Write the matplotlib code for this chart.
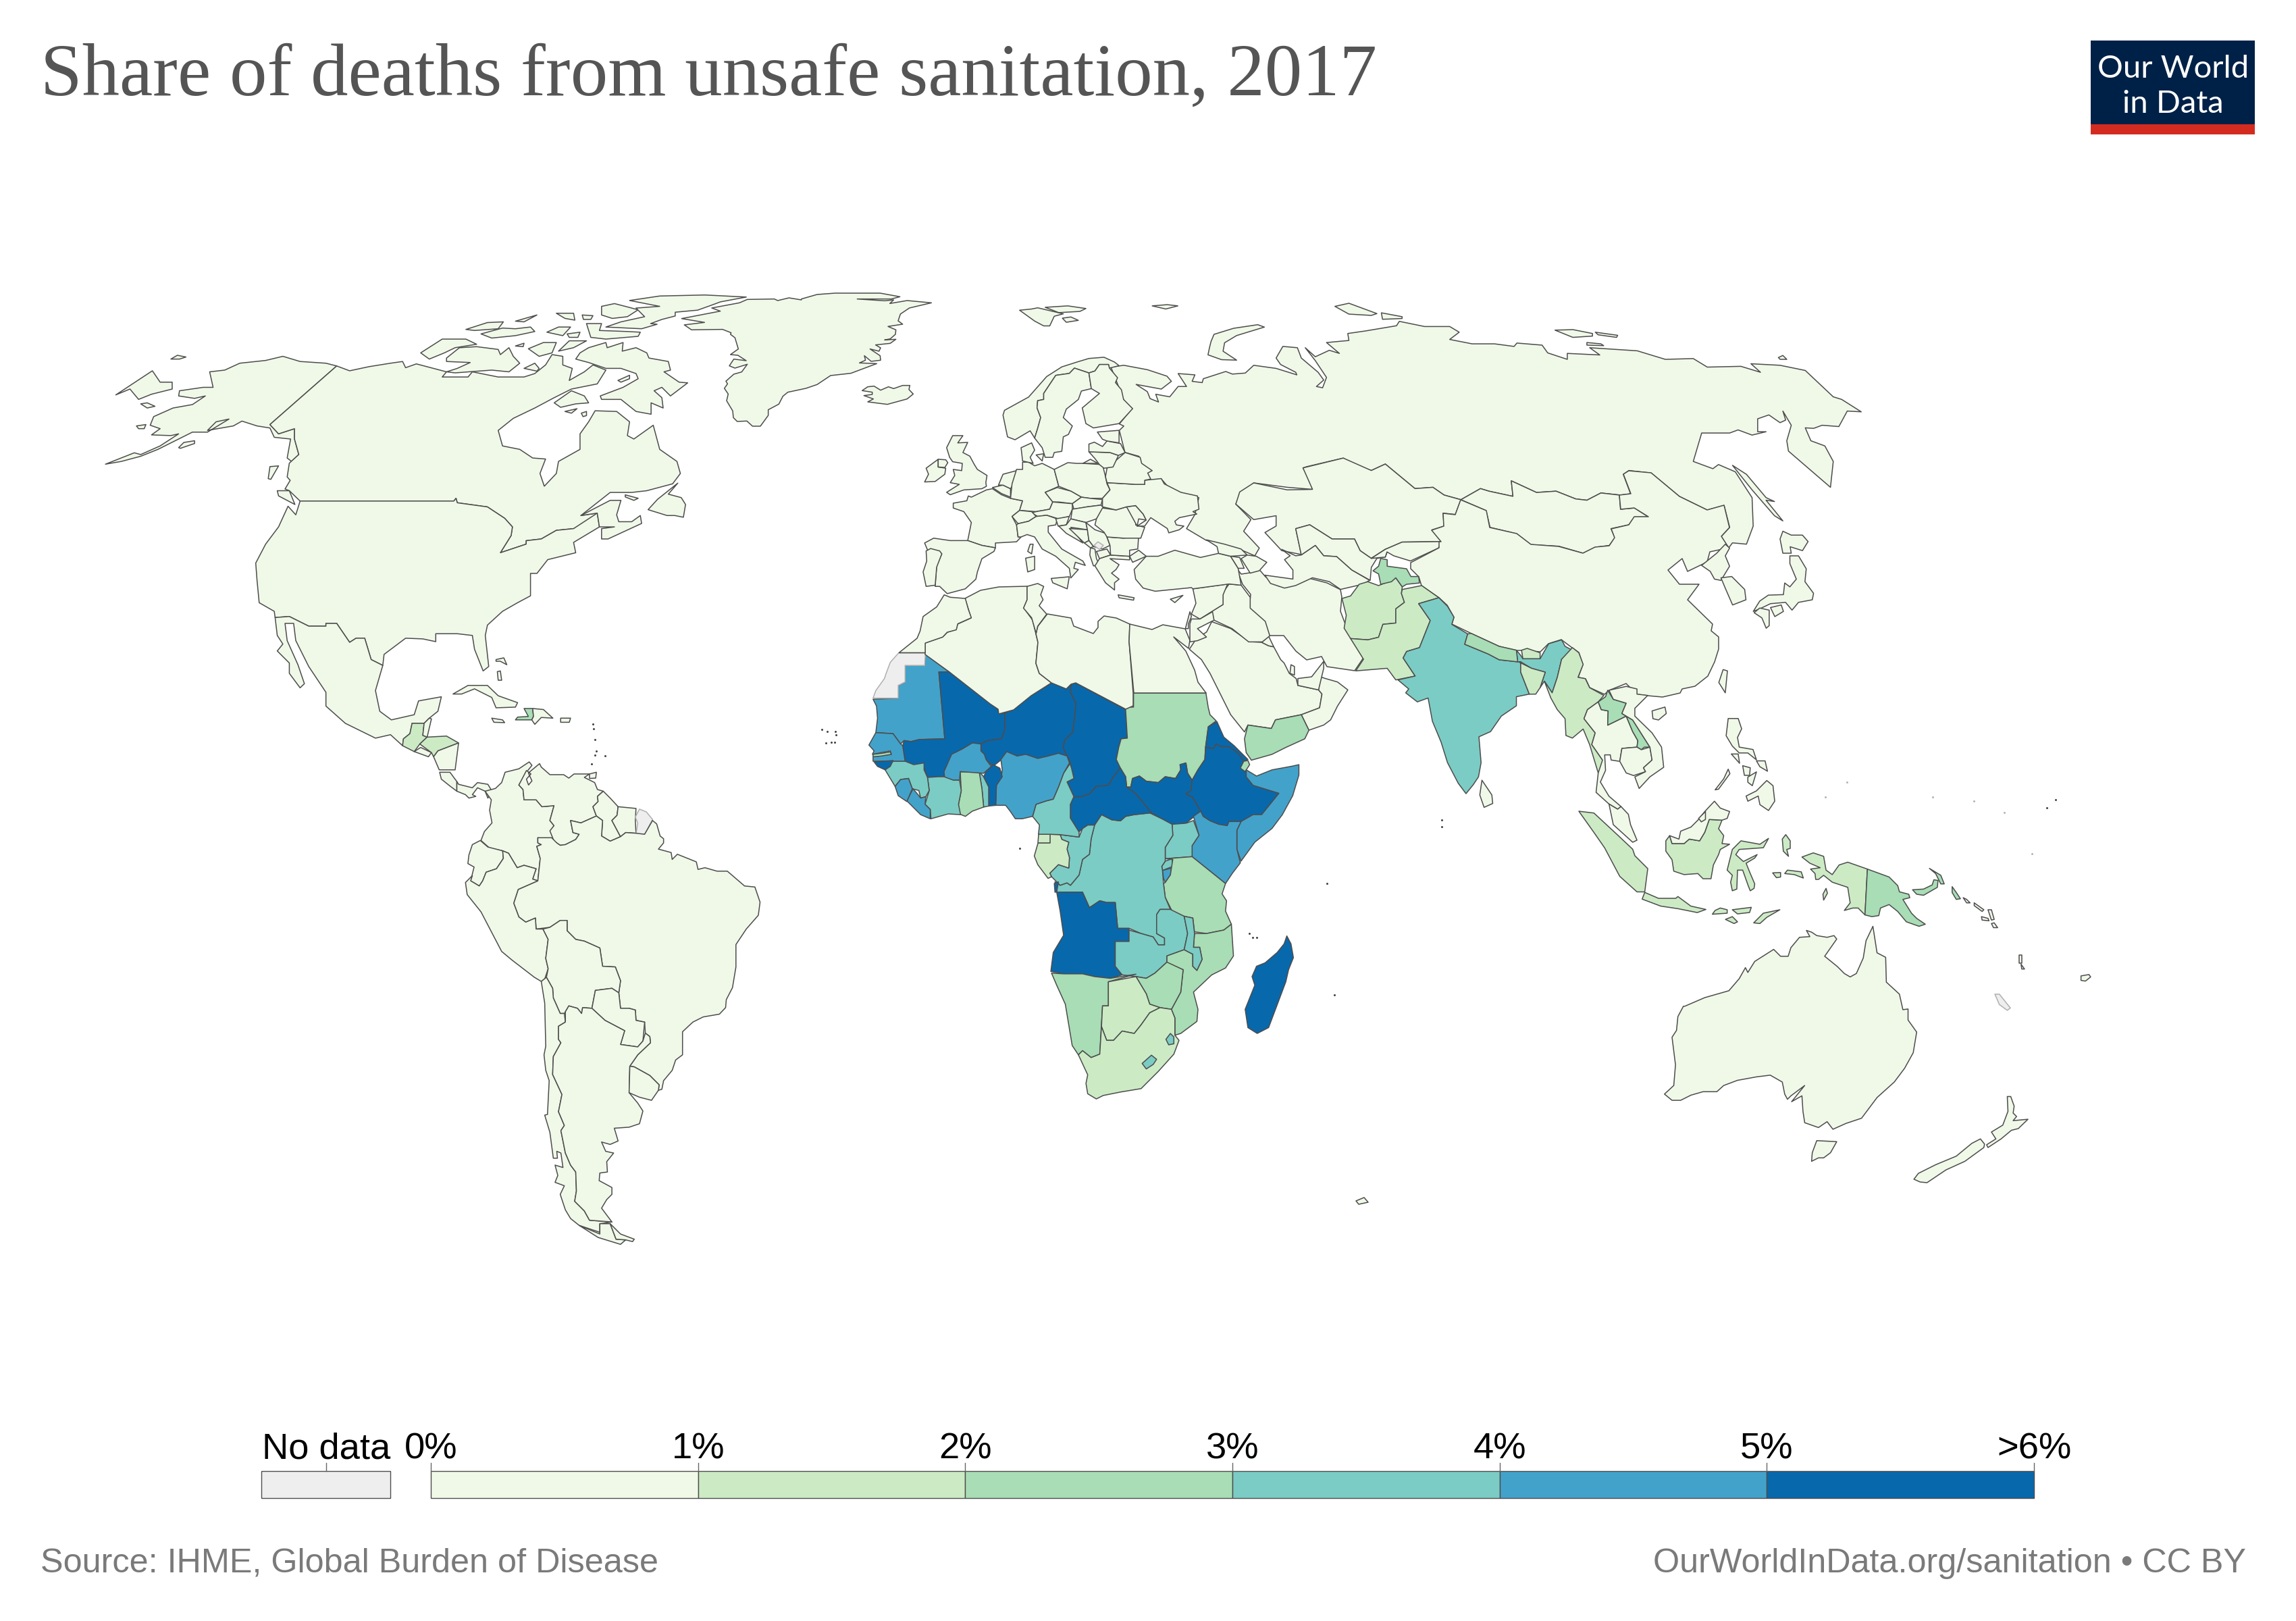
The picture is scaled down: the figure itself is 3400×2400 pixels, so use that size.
import numpy as np
import matplotlib
matplotlib.use("Agg")
import matplotlib.pyplot as plt
from matplotlib.colors import BoundaryNorm, ListedColormap
from matplotlib.patches import Rectangle

# Legend
bin_edges = [0, 1, 2, 3, 4, 5, 6]
bin_labels = ["0%", "1%", "2%", "3%", "4%", "5%", ">6%"]
bin_colors = ["#f0f9e8", "#ccebc5", "#a8ddb5", "#7bccc4", "#43a2ca", "#0868ac"]
no_data_color = "#eeeeee"
title = "Share of deaths from unsafe sanitation, 2017"
source = "Source: IHME, Global Burden of Disease"
credit = "OurWorldInData.org/sanitation • CC BY"

# Outlines below were read off the picture, each group in the pixels of one crop
# crop: left, top, x scale, y scale
AFRICA_CROP = (1200, 900, 1.96, 1.96)
NAMERICA_CROP = (100, 400, 1.568, 1.96)
EUROPE_CROP = (1300, 420, 2.24, 2.8)
ASIA_CROP = (2000, 800, 1.568, 2.613)
SAMERICA_CROP = (600, 1100, 1.96, 1.96)
EURASIA_CROP = (1500, 400, 1.206, 2.613)
OCEANIA_CROP = (2300, 1000, 1.96, 1.96)
GREENLAND_CROP = (950, 420, 3, 3)
PIXEL_CROP = (0, 0, 1, 1)

# --- Africa
western_sahara = [(334,131),(256,131),(232,158),(220,190),(215,205),(190,240),(182,262),(255,262),(255,225),(275,215),(275,167),(332,167)]
mauritania = [(334,135),(403,186),(373,186),(390,380),(316,382),(292,388),(272,385),(262,395),(240,365),(190,362),(195,320),(192,285),(182,265),(255,262),(255,225),(275,215),(275,167),(332,167)]
mali = [(373,186),(403,186),(522,278),(545,295),(547,307),(565,305),(564,355),(555,380),(515,385),(495,395),(470,392),(440,410),(415,425),(390,470),(388,490),(370,490),(340,492),(330,465),(300,455),(275,445),(268,400),(272,385),(292,388),(316,382),(390,380)]
niger = [(565,305),(590,295),(640,255),(700,218),(735,228),(742,236),(757,222),(755,245),(770,275),(770,290),(762,360),(738,385),(734,405),(745,430),(720,422),(690,430),(660,437),(625,425),(600,430),(570,417),(555,440),(530,460),(510,440),(505,425),(495,415),(495,395),(515,385),(555,380),(564,355)]
chad = [(757,222),(770,218),(915,295),(920,378),(902,380),(895,405),(888,440),(900,465),(880,490),(865,515),(830,518),(810,540),(785,548),(765,548),(745,505),(765,495),(758,465),(750,440),(745,430),(734,405),(738,385),(762,360),(770,290),(770,275),(755,245)]
sudan = [(938,247),(1148,247),(1155,290),(1160,310),(1178,328),(1155,345),(1147,405),(1145,440),(1125,470),(1108,500),(1095,480),(1090,450),(1073,455),(1075,470),(1060,495),(1030,490),(1010,507),(975,503),(955,488),(935,495),(930,520),(918,520),(915,490),(900,465),(888,440),(895,405),(902,380),(920,378),(915,295),(915,288),(938,288)]
south_sudan = [(918,520),(930,520),(935,495),(955,488),(975,503),(1010,507),(1030,490),(1060,495),(1075,470),(1073,455),(1090,450),(1095,480),(1108,500),(1105,530),(1090,540),(1110,550),(1133,590),(1115,605),(1090,625),(1050,628),(1020,612),(990,595),(970,570),(945,540)]
eritrea = [(1180,330),(1200,375),(1230,400),(1270,440),(1258,445),(1240,420),(1215,403),(1190,402),(1178,395),(1170,408),(1147,405),(1155,345)]
ethiopia = [(1147,405),(1170,408),(1178,395),(1190,402),(1215,403),(1240,420),(1258,445),(1250,465),(1265,475),(1265,490),(1285,515),(1360,538),(1310,600),(1285,600),(1250,620),(1215,620),(1210,632),(1185,628),(1160,618),(1140,605),(1133,590),(1110,550),(1090,540),(1105,530),(1108,500),(1125,470),(1145,440)]
djibouti = [(1258,445),(1270,443),(1275,455),(1262,475),(1248,465)]
somalia = [(1265,470),(1295,488),(1340,470),(1395,460),(1418,455),(1418,485),(1400,545),(1370,600),(1340,640),(1290,680),(1250,735),(1238,700),(1238,645),(1250,620),(1285,600),(1310,600),(1360,538),(1285,515),(1265,490)]
kenya = [(1133,590),(1140,605),(1160,618),(1185,628),(1210,632),(1215,620),(1250,620),(1238,645),(1238,700),(1248,740),(1225,770),(1205,800),(1108,722),(1108,690),(1128,660),(1112,605)]
uganda = [(1050,628),(1090,625),(1112,617),(1128,660),(1108,690),(1108,722),(1030,728),(1030,695),(1052,660)]
rwanda = [(1030,735),(1050,728),(1052,750),(1022,762),(1020,750)]
burundi = [(1022,762),(1048,755),(1045,775),(1030,797),(1025,785)]
tanzania = [(1030,728),(1108,722),(1205,800),(1195,830),(1208,850),(1205,880),(1222,918),(1200,935),(1150,945),(1115,940),(1110,900),(1085,895),(1050,880),(1030,840),(1025,800),(1030,797),(1045,775),(1048,755),(1052,730)]
dr_congo = [(845,600),(875,615),(900,618),(915,605),(940,600),(985,595),(1020,612),(1050,628),(1052,660),(1030,695),(1030,735),(1020,750),(1022,762),(1025,800),(1030,840),(1045,875),(1015,875),(1005,890),(1005,945),(1028,958),(1028,978),(1010,978),(995,955),(960,945),(925,930),(892,930),(885,855),(860,855),(840,850),(810,870),(790,825),(715,825),(710,795),(725,805),(745,798),(755,805),(780,775),(790,730),(810,715),(815,670),(825,630)]
congo = [(780,665),(790,640),(805,630),(825,630),(815,670),(810,715),(790,730),(780,775),(755,805),(745,798),(725,805),(715,795),(700,780),(695,770),(720,745),(750,755),(752,725),(745,700),(750,680),(730,672),(725,658)]
gabon = [(662,682),(695,682),(695,657),(725,658),(730,672),(750,680),(745,700),(752,725),(750,755),(720,745),(695,770),(700,780),(690,785),(660,745),(650,720),(660,685)]
eq_guinea = [(662,657),(695,657),(695,682),(660,682)]
cameroon = [(745,430),(750,440),(758,465),(765,495),(745,505),(765,548),(755,570),(755,610),(780,650),(780,665),(725,658),(695,657),(662,657),(665,630),(645,605),(655,570),(685,560),(705,555),(720,520),(735,480),(755,450)]
car = [(765,548),(785,548),(810,540),(830,518),(865,515),(880,490),(900,465),(915,490),(918,520),(945,540),(970,570),(990,595),(940,600),(915,605),(900,618),(875,615),(845,600),(825,630),(805,630),(790,640),(780,650),(755,610),(755,570)]
nigeria = [(570,417),(600,430),(625,425),(660,437),(690,430),(720,422),(745,430),(752,450),(735,480),(720,520),(705,555),(685,560),(655,570),(645,605),(615,612),(595,612),(580,590),(567,573),(538,573),(540,515),(555,485),(557,470),(553,440)]
benin = [(530,455),(550,465),(557,490),(540,515),(538,573),(518,575),(518,520),(503,490),(510,475)]
togo = [(490,475),(503,490),(518,520),(518,575),(503,578),(498,525)]
ghana = [(435,476),(490,475),(498,525),(503,578),(470,590),(450,605),(430,597),(430,570),(438,530)]
burkina = [(495,395),(495,415),(505,425),(510,440),(525,460),(503,480),(435,475),(433,500),(415,500),(390,495),(388,475),(410,425),(440,410),(470,392)]
ivory_coast = [(340,492),(370,490),(388,490),(415,500),(433,500),(438,530),(430,570),(436,600),(400,598),(350,612),(348,585),(333,570),(345,530)]
liberia = [(280,560),(298,525),(315,545),(320,552),(335,548),(333,570),(348,585),(348,612),(320,600)]
sierra_leone = [(246,518),(262,498),(285,495),(296,525),(280,562),(255,545)]
guinea = [(217,470),(240,445),(275,445),(300,455),(330,450),(330,470),(340,492),(345,530),(335,548),(320,552),(315,530),(296,525),(285,495),(262,498),(246,518)]
guinea_bissau = [(185,447),(240,443),(232,460),(217,470),(195,460)]
senegal = [(170,398),(190,362),(240,365),(262,395),(268,400),(275,445),(240,445),(182,445),(182,432),(235,425),(232,415),(180,425),(185,415)]
gambia = [(182,425),(208,422),(232,418),(235,425),(205,430),(182,432)]
angola = [(715,825),(790,825),(810,870),(840,850),(860,855),(885,855),(892,930),(925,930),(925,968),(885,968),(885,1040),(905,1065),(870,1075),(825,1070),(790,1062),(735,1062),(698,1055),(705,1000),(735,950),(725,880)]
cabinda = [(708,800),(720,795),(715,825),(710,825)]
zambia = [(925,935),(960,945),(995,955),(1010,978),(1028,978),(1028,958),(1005,945),(1005,890),(1015,875),(1045,875),(1085,895),(1095,945),(1085,992),(1035,1010),(1035,1028),(1000,1060),(975,1075),(945,1070),(905,1065),(885,1040),(885,968),(925,968)]
malawi = [(1085,895),(1110,900),(1115,945),(1112,985),(1130,985),(1137,1020),(1122,1052),(1110,1040),(1110,1005),(1085,992),(1095,945)]
mozambique = [(1115,945),(1150,945),(1200,935),(1222,918),(1228,1010),(1205,1045),(1165,1065),(1112,1115),(1125,1165),(1122,1200),(1075,1235),(1058,1240),(1058,1190),(1048,1165),(1075,1115),(1082,1050),(1035,1030),(1035,1010),(1085,992),(1110,1005),(1110,1040),(1122,1052),(1137,1020),(1130,985),(1112,985)]
zimbabwe = [(945,1070),(975,1075),(1000,1060),(1035,1028),(1082,1050),(1075,1115),(1048,1165),(1015,1160),(985,1150),(975,1120)]
botswana = [(865,1085),(945,1070),(975,1120),(985,1150),(1015,1160),(985,1175),(960,1210),(940,1235),(905,1228),(880,1255),(860,1255),(845,1215),(848,1155),(865,1155)]
namibia = [(700,1060),(735,1062),(790,1062),(825,1070),(870,1075),(945,1063),(865,1085),(865,1155),(848,1155),(840,1295),(815,1305),(790,1285),(778,1297),(760,1270),(745,1180),(740,1150),(715,1095)]
south_africa = [(1015,1160),(1048,1165),(1058,1190),(1058,1240),(1070,1255),(1055,1295),(1010,1345),(960,1395),(900,1405),(850,1415),(830,1425),(805,1410),(800,1380),(805,1355),(778,1297),(790,1285),(815,1305),(840,1295),(845,1215),(860,1255),(880,1255),(905,1228),(940,1235),(960,1210),(985,1175)]
eswatini = [(1045,1235),(1055,1245),(1055,1265),(1040,1268),(1032,1252)]
lesotho = [(990,1298),(1005,1310),(995,1325),(975,1338),(963,1322)]
madagascar = [(1383,952),(1395,975),(1402,1015),(1388,1050),(1380,1085),(1350,1165),(1330,1218),(1297,1235),(1270,1218),(1262,1165),(1290,1095),(1282,1070),(1295,1040),(1320,1030),(1355,1000),(1375,975)]
morocco = [(220,1290),(240,1300),(290,1305),(300,1350),(310,1385),(265,1410),(260,1435),(230,1445),(215,1465),(157,1490),(157,1530),(70,1530),(130,1470),(140,1440),(150,1380),(195,1340)]
tunisia = [(495,1255),(530,1243),(550,1255),(540,1290),(548,1310),(535,1335),(560,1370),(530,1420),(525,1450),(510,1385),(483,1345),(495,1310)]
algeria = [(1429,886),(1452,874),(1479,869),(1521,868),(1521,888),(1516,900),(1529,918),(1537,951),(1534,982),(1539,997),(1557,1011),(1527,1030),(1501,1051),(1479,1057),(1478,1050),(1466,1042),(1406,995),(1370,969),(1370,952),(1396,943),(1403,936),(1416,932),(1418,924),(1438,915),(1434,902)]
libya = [(1551,909),(1586,915),(1590,927),(1619,938),(1626,929),(1626,920),(1635,912),(1653,915),(1673,924),(1672,950),(1678,1026),(1678,1045),(1667,1050),(1593,1011),(1586,1013),(1579,1020),(1557,1011),(1539,997),(1534,982),(1537,951),(1534,938),(1537,927)]
egypt = [(1673,924),(1706,932),(1722,925),(1755,931),(1762,948),(1760,960),(1738,943),(1756,964),(1769,992),(1774,1010),(1786,1026),(1679,1026),(1672,950)]

# --- Middle East
saudi = [(1100,120),(1120,90),(1150,70),(1165,40),(1220,60),(1275,98),(1310,100),(1330,110),(1345,113),(1365,150),(1375,160),(1390,190),(1410,205),(1415,225),(1475,238),(1485,250),(1478,290),(1425,310),(1350,325),(1338,350),(1270,340),(1260,360),(1220,310),(1190,250),(1160,190),(1135,150)]
yemen = [(1425,310),(1447,355),(1435,380),(1380,405),(1340,425),(1280,442),(1265,420),(1260,380),(1270,340),(1338,350),(1350,325)]
oman = [(1475,238),(1480,200),(1495,205),(1530,215),(1560,238),(1530,285),(1510,325),(1490,340),(1447,355),(1425,310),(1478,290),(1485,250)]
uae = [(1415,205),(1455,200),(1490,155),(1490,175),(1475,238),(1415,225)]
qatar = [(1395,165),(1405,170),(1405,195),(1392,190)]
kuwait = [(1310,100),(1330,82),(1345,113),(1330,110)]
iran = [(1831,841),(1838,850),(1851,848),(1862,840),(1874,854),(1894,868),(1918,866),(1938,856),(1965,863),(1985,873),(1987,884),(1985,905),(2000,945),(2019,974),(2006,993),(1965,987),(1957,972),(1935,977),(1919,964),(1901,941),(1884,941),(1874,941),(1868,925),(1850,900),(1852,880),(1840,865)]
iraq = [(1165,1245),(1205,1250),(1235,1300),(1235,1345),(1285,1400),(1300,1460),(1275,1485),(1230,1485),(1175,1430),(1115,1395),(1105,1360),(1145,1330),(1145,1280)]
jordan = [(1040,1390),(1068,1390),(1110,1360),(1115,1395),(1060,1430),(1090,1465),(1060,1480),(1035,1485),(1035,1410)]
syria = [(1045,1265),(1160,1245),(1145,1290),(1145,1330),(1068,1390),(1040,1370),(1055,1325)]
israel = [(1040,1380),(1030,1410),(1030,1430),(1020,1430),(1035,1360)]
turkey = [(850,1185),(890,1130),(930,1130),(985,1105),(1070,1135),(1130,1118),(1170,1130),(1195,1180),(1205,1250),(1165,1245),(1045,1265),(1040,1260),(920,1275),(880,1262),(855,1225)]
turkey_eu = [(835,1130),(865,1105),(890,1130),(845,1155)]
georgia = [(1090,1062),(1150,1080),(1205,1100),(1225,1125),(1170,1130),(1130,1118),(1125,1090)]
armenia = [(1170,1130),(1200,1135),(1215,1180),(1195,1180)]
azerbaijan = [(1225,1125),(1255,1130),(1290,1155),(1265,1190),(1235,1200),(1205,1140)]

# --- Europe
norway = [(652,350),(700,370),(720,362),(735,335),(765,335),(768,350),(800,340),(785,325),(750,305),(700,310),(660,325),(610,345),(560,385),(500,470),(420,525),(415,545),(430,635),(455,647),(505,610),(520,640),(530,600),(540,555),(528,515),(530,485),(550,480),(550,455),(590,380),(635,372)]
sweden = [(590,380),(635,372),(652,350),(700,370),(708,435),(675,445),(665,480),(625,520),(615,555),(645,590),(632,625),(615,635),(610,695),(585,700),(580,720),(555,720),(545,680),(520,640),(530,600),(540,555),(528,515),(530,485),(550,480),(550,455)]
finland = [(720,362),(735,335),(765,335),(768,350),(795,390),(788,410),(808,440),(815,480),(845,518),(800,580),(715,598),(690,580),(678,515),(735,455),(708,435),(700,370)]
uk = [(248,630),(282,630),(265,660),(298,658),(282,700),(305,715),(320,750),(330,770),(362,795),(358,825),(360,840),(345,850),(285,855),(240,875),(228,865),(270,832),(240,825),(255,795),(250,770),(278,775),(280,745),(248,738),(238,720),(228,680)]
ireland = [(160,765),(200,728),(200,760),(225,765),(222,790),(190,820),(155,822),(168,790)]
n_ireland = [(200,728),(225,730),(232,742),(222,762),(200,760)]
france = [(250,910),(295,900),(300,880),(310,885),(360,855),(380,850),(410,875),(440,890),(480,900),(470,940),(445,965),(460,1000),(465,1050),(475,1050),(460,1070),(390,1075),(390,1095),(345,1085),(298,1065),(310,990),(285,945),(250,930)]
spain = [(155,1075),(185,1055),(240,1065),(298,1065),(345,1085),(390,1095),(385,1110),(345,1140),(330,1195),(325,1225),(290,1265),(230,1285),(205,1255),(190,1255),(195,1170),(212,1120),(200,1108),(165,1105)]
portugal = [(160,1108),(175,1098),(205,1108),(212,1120),(195,1175),(190,1250),(160,1255),(150,1195),(162,1150)]
belgium = [(380,845),(415,835),(440,850),(440,885),(410,870)]
netherlands = [(400,835),(415,790),(460,775),(450,830),(440,850),(415,835)]
germany = [(460,770),(480,770),(480,740),(500,740),(520,755),(545,745),(585,770),(600,840),(555,865),(580,905),(570,935),(525,945),(470,940),(480,900),(440,890),(445,830)]
denmark = [(475,680),(510,660),(520,690),(505,720),(515,745),(480,735)]
zealand = [(525,710),(550,705),(545,735)]
poland = [(585,770),(630,742),(660,745),(680,745),(745,750),(755,800),(760,830),(770,855),(745,890),(705,890),(675,885),(640,860),(600,840)]
czechia = [(555,865),(595,845),(640,860),(675,885),(645,912),(600,905),(580,905)]
slovakia = [(645,912),(675,885),(705,890),(745,895),(740,918),(695,925),(650,935)]
austria = [(510,950),(525,945),(570,935),(580,905),(645,912),(645,935),(635,965),(600,975),(560,960),(530,965)]
hungary = [(645,935),(695,925),(740,918),(750,930),(725,975),(690,990),(640,975)]
switzerland = [(445,965),(470,940),(510,945),(525,965),(500,985),(465,995)]
italy = [(460,1000),(465,995),(500,985),(525,965),(560,960),(595,975),(590,1000),(565,1005),(565,1030),(610,1100),(680,1150),(688,1168),(655,1155),(650,1180),(665,1185),(640,1220),(635,1180),(590,1130),(545,1100),(520,1050),(495,1040),(475,1050),(465,1050)]
sicily = [(575,1222),(635,1215),(628,1265),(580,1240)]
sardinia = [(490,1138),(520,1130),(520,1185),(497,1195)]
corsica = [(505,1080),(515,1080),(510,1120),(497,1110)]
slovenia = [(590,975),(635,965),(625,1000),(598,1005)]
croatia = [(600,1005),(625,1000),(640,975),(690,990),(695,1020),(640,1010),(680,1075),(625,1035)]
bosnia = [(635,1015),(695,1020),(700,1065),(685,1075)]
serbia = [(690,990),(720,1020),(755,1035),(770,1085),(745,1100),(715,1090),(700,1065),(695,1020)]
kosovo = [(730,1070),(748,1085),(735,1102),(717,1085)]
montenegro = [(685,1075),(700,1065),(715,1090),(705,1095)]
albania = [(705,1095),(720,1100),(725,1140),(735,1165),(715,1170),(703,1125)]
macedonia = [(725,1110),(760,1100),(772,1125),(735,1140)]
greece = [(735,1140),(772,1125),(835,1130),(835,1145),(770,1140),(800,1165),(790,1185),(775,1200),(800,1225),(785,1240),(785,1270),(755,1240),(720,1170)]
crete = [(797,1290),(850,1302),(848,1312),(800,1302)]
cyprus = [(970,1308),(1012,1292),(985,1322)]
bulgaria = [(760,1050),(815,1055),(865,1045),(862,1100),(835,1105),(835,1130),(772,1125),(770,1085)]
romania = [(725,975),(745,930),(790,938),(825,925),(860,970),(855,1000),(885,1010),(872,1055),(815,1055),(760,1050),(750,1030),(720,1000)]
moldova = [(825,925),(855,920),(880,955),(890,980),(865,975),(860,1005)]
ukraine = [(760,825),(855,832),(885,832),(885,815),(940,808),(950,830),(1005,865),(1060,880),(1065,935),(1045,945),(1058,955),(1000,970),(985,985),(990,1000),(1015,1005),(1000,1020),(965,1033),(960,1015),(905,970),(885,1005),(860,1005),(890,980),(880,955),(855,920),(825,925),(790,938),(745,925),(745,890),(770,855)]
belarus = [(760,765),(820,700),(850,712),(870,720),(875,745),(910,775),(895,785),(905,810),(885,815),(885,832),(855,832),(760,825),(755,800)]
lithuania = [(700,697),(770,700),(798,712),(780,760),(750,765),(735,750),(720,725)]
latvia = [(700,665),(718,657),(745,675),(760,652),(805,663),(820,700),(798,712),(770,700),(700,697)]
estonia = [(728,615),(800,608),(800,660),(760,652),(745,645)]
kaliningrad = [(680,745),(705,728),(730,745)]
iceland = [(980,475),(1005,458),(1033,455),(1062,473),(1097,458),(1120,466),(1160,452),(1192,452),(1188,470),(1207,490),(1180,512),(1092,536),(1005,525),(1030,512),(988,497),(1025,492),(1025,482)]
svalbard = [(470,110),(510,105),(530,100),(615,125),(585,135),(570,175),(550,175),(520,155)]
svalbard_n = [(555,98),(630,92),(690,103),(670,115),(600,120)]
svalbard_s = [(612,143),(640,138),(665,152),(625,160)]
franz_josef = [(910,92),(960,87),(995,92),(955,105)]
novaya_zemlya = [(1115,210),(1180,185),(1260,170),(1282,180),(1190,215),(1150,245),(1145,280),(1190,317),(1140,315),(1095,295),(1100,265),(1105,240)]

# --- Russia and inner Asia
russia = [(198,368),(240,385),(275,410),(283,430),(265,460),(220,442),(240,470),(245,497),(260,510),(255,480),(280,490),(295,450),(310,450),(295,400),(325,405),(320,430),(338,435),(340,420),(380,392),(392,402),(415,398),(430,368),(470,380),(507,405),(505,395),(478,365),(470,340),(482,295),(508,300),(515,340),(545,395),(555,425),(542,450),(553,455),(560,415),(540,350),(522,300),(540,335),(565,310),(583,322),(560,280),(600,272),(598,245),(630,235),(685,215),(690,198),(735,218),(780,218),(797,240),(780,268),(820,285),(860,285),(895,295),(900,282),(945,290),(955,320),(990,345),(990,322),(1048,328),(1030,300),(1115,312),(1165,345),(1215,342),(1240,375),(1300,372),(1335,395),(1318,362),(1370,368),(1415,388),(1465,490),(1480,500),(1515,548),(1490,545),(1475,605),(1445,600),(1430,612),(1415,610),(1425,660),(1450,680),(1465,740),(1460,840),(1385,700),(1382,660),(1390,600),(1375,545),(1380,580),(1370,590),(1350,560),(1330,575),(1330,625),(1345,625),(1320,638),(1295,618),(1280,630),(1230,630),(1215,740),(1250,768),(1260,752),(1290,780),(1320,880),(1322,990),(1310,1060),(1285,1055),(1278,1075),(1265,1030),(1280,995),(1270,910),(1240,928),(1190,875),(1140,785),(1100,775),(1090,790),(1103,865),(1085,870),(1050,862),(1025,890),(1005,885),(970,855),(935,860),(890,815),(893,875),(850,855),(835,845),(800,888),(770,870),(750,840),(718,845),(665,750),(640,775),(610,755),(590,727),(525,760),(518,765),(530,810),(535,848),(490,840),(430,823),(405,870),(398,905),(425,965),(412,1010),(440,1075),(432,1105),(400,1075),(345,1045),(310,1000),(325,945),(332,880),(282,850),(265,808),(240,830),(225,720),(200,705),(190,620),(198,603),(190,595),(213,535),(200,515),(185,430),(175,375)]
kazakhstan = [(405,858),(430,823),(490,850),(535,848),(518,765),(590,727),(640,775),(665,750),(718,845),(750,840),(770,870),(800,888),(790,945),(768,940),(770,990),(748,1005),(765,1050),(695,1052),(665,1080),(640,1115),(620,1085),(610,1040),(570,1040),(530,985),(505,1000),(515,1100),(480,1085),(450,1015),(470,990),(470,950),(430,965),(398,905)]
uzbekistan = [(505,1000),(530,985),(570,1040),(610,1040),(620,1085),(640,1115),(665,1080),(690,1065),(670,1080),(665,1110),(650,1115),(640,1150),(638,1200),(605,1160),(578,1108),(555,1105),(540,1065),(515,1102)]
turkmenistan = [(480,1080),(505,1105),(515,1102),(540,1065),(555,1105),(578,1108),(605,1160),(637,1200),(625,1215),(585,1235),(565,1205),(535,1190),(505,1220),(485,1230),(460,1212),(450,1180),(500,1195),(500,1160),(485,1120),(495,1105)]
kyrgyzstan = [(640,1115),(665,1080),(695,1052),(765,1050),(760,1075),(730,1105),(710,1125),(680,1105),(668,1090),(665,1110)]
mongolia = [(800,888),(835,845),(850,855),(893,875),(890,815),(935,860),(970,855),(1005,885),(1025,890),(1050,862),(1083,870),(1085,925),(1110,920),(1135,955),(1110,955),(1100,985),(1068,1000),(1075,1035),(1065,1065),(1040,1072),(1018,1095),(975,1068),(925,1062),(900,1020),(852,995),(845,930)]
china = [(2163,740),(2201,756),(2206,781),(2246,790),(2267,806),(2308,809),(2344,819),(2362,810),(2383,808),(2391,796),(2386,783),(2412,777),(2420,765),(2441,765),(2420,752),(2400,754),(2398,733),(2415,731),(2404,702),(2412,697),(2445,700),(2487,735),(2528,755),(2553,748),(2561,781),(2549,794),(2560,811),(2532,817),(2528,832),(2499,846),(2491,827),(2470,844),(2487,865),(2516,865),(2499,888),(2536,924),(2534,934),(2545,943),(2545,961),(2539,980),(2529,1001),(2510,1016),(2491,1020),(2488,1026),(2462,1032),(2440,1030),(2424,1028),(2408,1012),(2383,1022),(2376,1028),(2354,1018),(2348,1005),(2337,1003),(2344,984),(2338,966),(2328,959),(2312,947),(2293,953),(2281,965),(2253,963),(2246,963),(2220,957),(2179,938),(2150,924),(2153,914),(2143,896),(2131,885),(2105,867),(2101,854),(2089,842),(2089,833),(2131,811),(2131,802),(2134,802),(2120,785),(2138,779),(2137,760),(2155,762)]
sakhalin = [(1285,755),(1310,790),(1345,880),(1360,895),(1345,890),(1375,970),(1360,950),(1320,850)]
hokkaido = [(1375,1010),(1390,1025),(1410,1025),(1420,1050),(1410,1085),(1388,1070),(1390,1095),(1375,1095),(1370,1040)]
severnaya = [(575,140),(600,128),(650,168),(640,175),(600,170)]
severnaya_s = [(658,165),(695,180),(695,187),(660,190)]
new_siberian = [(968,232),(1000,230),(1035,245),(1035,255),(1000,260)]
new_siberian_e = [(1040,240),(1080,252),(1078,260),(1045,250)]
new_siberian_s = [(1025,280),(1050,285),(1055,292),(1025,290)]
wrangel = [(1367,338),(1375,330),(1382,345),(1370,345)]

# --- South and East Asia
tajikistan = [(70,70),(85,75),(85,100),(130,110),(140,140),(158,140),(160,165),(130,170),(120,180),(105,145),(95,160),(70,170),(65,130),(52,118),(65,100)]
afghanistan = [(-20,225),(0,215),(20,170),(40,160),(65,175),(95,155),(105,145),(120,180),(118,205),(125,240),(105,265),(105,320),(75,325),(65,375),(40,385),(0,380),(-15,340),(-10,290)]
pakistan = [(0,380),(30,460),(12,505),(85,495),(105,540),(150,525),(122,455),(130,430),(160,415),(185,310),(158,245),(205,222),(165,175),(120,190),(118,205),(125,240),(105,265),(105,320),(75,325),(65,375),(40,385)]
india = [(158,245),(205,222),(225,255),(240,297),(235,325),(272,362),(265,402),(320,440),(345,462),(388,470),(385,425),(395,445),(400,458),(440,458),(460,400),(490,385),(498,410),(515,425),(490,460),(480,530),(468,590),(450,545),(440,570),(452,510),(420,495),(395,470),(395,510),(415,595),(385,605),(385,640),(350,680),(325,740),(298,760),(303,860),(297,915),(285,945),(268,980),(250,940),(225,860),(210,780),(190,700),(180,610),(155,625),(128,590),(135,575),(110,540),(150,525),(122,455),(130,430),(160,415),(185,310)]
nepal = [(280,360),(345,410),(385,425),(388,470),(345,462),(320,440),(265,402),(272,362)]
bhutan = [(397,425),(410,418),(440,435),(440,458),(400,458)]
bangladesh = [(390,470),(420,495),(452,510),(440,570),(430,595),(415,595),(395,510),(395,470)]
myanmar = [(515,415),(530,435),(540,480),(528,530),(545,535),(555,570),(588,600),(575,625),(550,655),(542,690),(568,745),(560,790),(585,850),(580,920),(575,900),(555,790),(540,730),(515,765),(500,755),(498,690),(480,655),(465,610),(450,545),(468,590),(480,530),(490,460)]
thailand = [(575,625),(582,655),(598,660),(597,715),(640,680),(655,740),(667,775),(665,800),(630,805),(625,855),(605,850),(603,830),(590,830),(592,890),(580,935),(600,990),(628,1030),(620,1040),(600,1020),(570,975),(575,900),(585,850),(560,790),(568,745),(542,690),(550,655)]
laos = [(597,580),(610,615),(640,630),(630,670),(655,695),(695,800),(682,800),(675,810),(665,800),(667,775),(655,740),(640,680),(597,715),(598,660),(582,655),(575,625),(592,605)]
cambodia = [(630,805),(665,800),(675,810),(695,800),(700,850),(680,880),(685,895),(657,910),(640,900),(625,855)]
vietnam = [(600,580),(640,565),(665,575),(665,595),(690,600),(660,650),(660,680),(700,745),(722,800),(727,878),(695,915),(670,960),(660,915),(685,895),(680,880),(700,850),(695,800),(655,695),(630,670),(640,630),(610,615)]
malaya = [(600,1020),(620,1040),(628,1030),(645,1060),(650,1100),(665,1160),(655,1168),(610,1100)]
north_korea = [(815,97),(850,50),(870,15),(880,30),(870,60),(880,100),(860,155),(845,150),(835,120)]
south_korea = [(860,145),(885,140),(915,190),(918,230),(887,250),(870,185)]
honshu = [(1020,60),(1040,60),(1058,110),(1055,160),(1075,205),(1072,230),(1040,240),(1025,270),(1010,240),(975,245),(950,265),(935,275),(950,235),(970,212),(1005,210),(1008,165),(1020,180),(1035,150),(1020,90)]
kyushu = [(937,280),(950,262),(972,270),(972,330),(965,340),(955,300)]
shikoku = [(975,260),(1000,250),(1005,275),(985,295)]
taiwan = [(865,500),(875,505),(870,590),(855,550)]
hainan = [(700,660),(730,645),(733,670),(715,695),(702,690)]
sri_lanka = [(305,928),(328,985),(330,1018),(310,1033),(300,985)]
sumatra = [(530,1048),(565,1055),(620,1140),(655,1195),(660,1220),(690,1270),(683,1360),(665,1360),(625,1300),(590,1190),(565,1130)]
java = [(683,1362),(715,1385),(755,1385),(760,1378),(790,1415),(825,1428),(805,1440),(760,1425),(720,1415),(677,1388)]

# --- Oceania and island Asia
sumbawa = [(462,693),(470,682),(485,675),(505,680),(505,690)]
flores = [(520,680),(575,673),(570,688),(535,692)]
sumba = [(500,708),(520,700),(535,715),(525,720)]
timor = [(582,718),(610,690),(658,680),(620,702),(600,720)]
borneo_indo = [(338,465),(345,488),(380,488),(395,475),(425,480),(440,455),(453,418),(490,420),(480,445),(495,465),(490,488),(512,490),(485,505),(480,520),(465,550),(458,590),(435,590),(420,575),(380,578),(350,568),(345,535),(327,510),(327,480)]
borneo_malay = [(338,465),(365,475),(370,452),(400,440),(420,420),(440,395),(468,365),(485,385),(512,395),(505,415),(490,420),(453,418),(440,455),(425,480),(395,475),(380,488),(345,488)]
brunei = [(422,415),(442,395),(442,418),(430,425)]
sulawesi = [(545,480),(600,490),(625,473),(610,500),(540,505),(530,520),(552,540),(592,520),(585,530),(560,545),(570,570),(585,605),(583,618),(572,625),(566,610),(550,565),(535,565),(533,620),(520,625),(515,600),(520,580),(505,565),(520,505)]
halmahera = [(665,475),(675,462),(688,480),(688,502),(678,505),(683,525),(668,510)]
seram = [(672,575),(680,565),(720,570),(726,588),(700,578)]
buru = [(637,573),(660,572),(660,585),(648,587)]
yos_sudarso = [(783,635),(792,618),(796,632),(785,652)]
papua_indo = [(722,527),(755,515),(785,525),(792,565),(810,578),(830,550),(855,542),(912,562),(905,695),(885,675),(870,675),(845,682),(862,660),(855,615),(810,600),(785,580),(770,592),(762,592),(760,575),(747,562),(775,558),(745,545)]
papua_new_guinea = [(912,562),(975,585),(1000,610),(1005,628),(1032,635),(1035,645),(1015,650),(1040,690),(1055,705),(1080,722),(1062,728),(1025,715),(1000,685),(975,665),(950,675),(945,697),(925,700),(905,695)]
new_britain = [(1043,622),(1075,620),(1100,608),(1105,593),(1117,595),(1115,615),(1075,638),(1055,635)]
new_ireland = [(1092,560),(1125,580),(1135,605),(1125,605),(1110,575)]
bougainville = [(1158,613),(1170,630),(1182,648),(1170,650),(1158,630)]
solomon_1 = [(1190,645),(1200,650),(1210,660),(1200,660)]
solomon_2 = [(1222,660),(1250,680),(1245,685),(1222,668)]
solomon_3 = [(1262,680),(1272,680),(1280,708),(1272,710)]
solomon_4 = [(1243,700),(1262,705),(1265,712),(1245,710)]
solomon_5 = [(1272,720),(1280,718),(1290,732),(1278,732)]
vanuatu_n = [(1352,812),(1360,812),(1360,835),(1352,835)]
vanuatu_s = [(1358,838),(1368,852),(1360,852)]
new_caledonia = [(1282,925),(1295,925),(1327,965),(1318,972),(1295,955)]
fiji = [(1532,872),(1555,868),(1560,875),(1545,887),(1532,885)]
palawan = [(508,272),(513,285),(480,330),(470,332),(495,300)]
luzon = [(508,125),(537,125),(547,155),(535,180),(540,208),(580,215),(590,245),(565,225),(540,225),(520,205),(502,175)]
mindanao = [(560,350),(590,335),(620,305),(638,320),(643,365),(625,392),(600,375),(595,350),(565,365)]
mindoro = [(517,228),(537,228),(541,255)]
panay = [(550,262),(572,268),(570,290),(555,290)]
samar = [(590,248),(615,248),(622,278),(600,265)]
negros = [(565,295),(590,280),(578,320),(565,310)]
australia = [(735,740),(750,745),(765,755),(795,760),(815,755),(823,765),(788,815),(825,845),(845,865),(862,875),(880,865),(900,820),(908,770),(928,728),(940,805),(965,818),(967,890),(1005,925),(1015,970),(1030,968),(1030,1000),(1055,1035),(1045,1095),(1020,1140),(990,1180),(940,1225),(895,1285),(850,1300),(812,1317),(795,1295),(770,1312),(730,1298),(725,1265),(722,1220),(692,1237),(730,1190),(690,1220),(680,1230),(672,1215),(665,1180),(630,1160),(590,1165),(535,1175),(495,1190),(475,1208),(435,1208),(400,1218),(370,1233),(345,1233),(323,1215),(350,1190),(355,1130),(345,1050),(358,1030),(362,990),(378,960),(382,960),(440,935),(510,915),(540,880),(558,848),(565,862),(585,830),(640,795),(660,815),(682,815),(690,790),(715,760),(745,758)]
tasmania = [(765,1350),(823,1353),(805,1385),(785,1400),(770,1400),(750,1410),(752,1385)]
nz_north = [(1318,1222),(1328,1222),(1338,1250),(1335,1270),(1345,1280),(1335,1292),(1378,1288),(1350,1315),(1330,1320),(1300,1345),(1262,1370),(1258,1362),(1285,1345),(1272,1325),(1305,1305),(1320,1265)]
nz_south = [(1240,1345),(1252,1360),(1250,1370),(1195,1410),(1140,1435),(1085,1472),(1065,1470),(1047,1462),(1060,1445),(1110,1420),(1170,1395),(1215,1358)]
kerguelen = [(2008,1778),(2020,1773),(2026,1780),(2012,1783)]

# --- North America
alaska = [(625,278),(600,270),(540,265),(500,250),(460,262),(400,270),(365,290),(330,295),(338,340),(315,340),(260,350),(258,365),(295,372),(320,365),(290,390),(245,400),(200,425),(192,450),(215,460),(195,478),(240,480),(258,475),(215,510),(170,535),(155,530),(88,563),(125,555),(170,540),(210,520),(250,495),(290,470),(325,470),(375,432),(345,440),(325,465),(385,452),(405,438),(440,452),(470,458),(480,485),(518,490),(510,545),(520,555),(537,535),(527,490),(527,460),(490,475),(470,448)]
seward = [(112,362),(197,292),(215,325),(243,325),(243,345),(195,360),(165,375),(145,345)]
canada = [(625,278),(655,292),(700,280),(750,270),(778,265),(785,283),(810,272),(880,295),(870,310),(930,310),(940,295),(1000,310),(1060,310),(1085,300),(1110,275),(1125,245),(1150,250),(1150,275),(1172,285),(1165,320),(1200,295),(1220,275),(1250,290),(1230,330),(1170,345),(1130,370),(1085,400),(1035,430),(1000,465),(1010,510),(1050,520),(1080,545),(1110,548),(1097,590),(1107,627),(1135,590),(1140,555),(1190,520),(1190,475),(1210,440),(1225,408),(1275,410),(1305,440),(1300,480),(1315,490),(1360,450),(1375,520),(1415,555),(1423,590),(1405,620),(1345,640),(1310,645),(1260,645),(1192,712),(1230,705),(1230,745),(1175,750),(1135,755),(1100,780),(1065,785),(1065,795),(1005,820),(1030,770),(1033,745),(1015,720),(975,687),(905,675),(902,662),(897,670),(540,670),(515,640),(505,635),(517,610),(510,600),(515,560),(537,535),(527,490),(527,460),(490,475),(470,448)]
usa = [(540,670),(897,670),(902,662),(905,675),(975,687),(1015,720),(1033,745),(1030,770),(1005,820),(1065,795),(1065,785),(1100,780),(1135,755),(1175,750),(1230,705),(1235,745),(1175,790),(1180,820),(1115,840),(1090,880),(1075,880),(1075,945),(1045,965),(1010,990),(975,1030),(970,1060),(978,1150),(965,1163),(945,1100),(940,1060),(905,1055),(855,1055),(855,1078),(825,1070),(785,1068),(735,1115),(732,1147),(705,1130),(690,1068),(670,1068),(655,1080),(625,1025),(600,1025),(600,1033),(560,1033),(515,1005),(482,1008),(480,990),(445,965),(440,900),(437,850),(460,795),(490,745),(512,685),(530,710)]
maritimes = [(1192,712),(1260,668),(1285,668),(1275,710),(1280,730),(1310,730),(1330,712),(1333,735),(1255,780),(1240,780),(1240,750),(1270,745),(1235,745),(1230,705)]
newfoundland = [(1417,618),(1395,650),(1425,660),(1435,680),(1430,717),(1410,712),(1392,712),(1348,695),(1370,665)]
anticosti = [(1295,652),(1325,662),(1315,668),(1295,658)]
vancouver = [(487,640),(515,640),(528,680),(490,655)]
haida = [(470,570),(490,568),(472,607),(466,605)]
kodiak = [(258,515),(270,500),(295,495),(295,503),(262,517)]
nunivak = [(160,452),(182,448),(178,460),(165,460)]
st_lawrence = [(240,258),(255,247),(275,252),(260,258)]
st_matthew = [(170,388),(185,385),(203,395),(185,400)]
baffin = [(1190,240),(1210,225),(1250,210),(1253,225),(1290,210),(1288,235),(1320,225),(1345,240),(1350,255),(1395,265),(1400,290),(1385,295),(1420,325),(1440,327),(1400,365),(1380,340),(1362,350),(1380,370),(1383,400),(1355,385),(1355,418),(1320,410),(1285,375),(1240,375),(1237,365),(1290,340),(1325,315),(1320,300),(1285,285),(1250,285),(1210,268),(1180,258)]
victoria_isl = [(880,255),(910,225),(950,222),(1000,230),(1005,245),(1025,225),(1035,250),(1050,270),(1025,295),(985,290),(900,298),(880,295),(905,285),(935,268),(880,265)]
banks_isl = [(820,240),(870,200),(925,200),(950,215),(900,225),(875,240),(840,258)]
melville = [(925,172),(975,152),(1012,150),(1000,170),(945,175)]
bathurst = [(960,185),(1010,168),(1040,170),(1075,165),(1085,178),(1040,190),(985,197)]
cornwallis = [(1113,180),(1140,165),(1168,165),(1150,190)]
somerset = [(1160,185),(1190,180),(1185,195),(1165,195)]
prince_wales = [(1070,228),(1105,210),(1135,210),(1125,240),(1095,250)]
bylot = [(1140,235),(1165,205),(1205,205),(1175,225)]
king_william = [(1060,285),(1085,270),(1095,285),(1090,293)]
southampton = [(1130,385),(1170,350),(1200,365),(1210,385),(1180,388),(1145,398)]
coats = [(1155,410),(1183,402),(1170,415)]
mansel = [(1193,415),(1205,410),(1205,422),(1197,425)]
nettilling = [(1278,320),(1305,305),(1305,315),(1285,325)]
prince_charles = [(1040,220),(1060,212),(1058,222)]
ellef = [(1040,148),(1090,130),(1060,150)]
meighen = [(1135,125),(1175,125),(1178,145),(1155,140)]
graham = [(1195,130),(1220,132),(1215,143),(1198,143)]
axel_heiberg = [(1240,105),(1270,97),(1295,105),(1325,115),(1300,135),(1265,140),(1240,130)]
devon = [(1205,155),(1240,155),(1235,175),(1300,178),(1330,180),(1325,192),(1250,200),(1215,195)]
ellesmere = [(1305,88),(1375,75),(1480,72),(1576,78),(1516,92),(1490,104),(1463,116),(1411,122),(1411,133),(1380,143),(1354,155),(1369,157),(1333,170),(1250,165),(1285,150),(1340,135),(1320,110),(1375,105)]
greenland = [(710,68),(780,48),(860,42),(1060,42),(1148,58),(1110,68),(958,68),(1080,76),(1120,72),(1103,88),(1180,75),(1288,85),(1190,108),(1150,135),(1140,165),(1160,180),(1095,190),(1130,205),(1128,225),(1105,245),(1080,250),(1130,247),(1105,265),(1040,272),(1062,285),(1055,300),(1015,290),(1060,320),(1062,340),(1020,345),(990,320),(995,340),(968,352),(1045,355),(930,398),(840,408),(780,448),(730,465),(650,482),(628,500),(610,535),(563,560),(563,585),(528,633),(493,633),(468,610),(425,612),(408,595),(405,565),(378,520),(385,490),(368,465),(382,445),(375,433),(410,402),(445,392),(470,358),(415,375),(390,365),(410,335),(465,342),(428,318),(395,315),(430,290),(415,240),(395,225),(398,218),(360,203),(222,205),(190,183),(280,172),(178,155),(350,122),(312,108),(435,85),(470,70),(590,68),(605,75),(655,63),(710,72)]
mexico = [(482,1008),(515,1005),(560,1033),(600,1033),(600,1025),(625,1025),(655,1080),(670,1068),(690,1068),(705,1130),(732,1147),(715,1220),(725,1280),(752,1305),(805,1290),(815,1250),(868,1238),(860,1280),(840,1300),(828,1315),(800,1315),(795,1345),(780,1360),(778,1380),(750,1348),(715,1358),(645,1315),(600,1265),(600,1225),(560,1150),(530,1075),(525,1025),(505,1025),(510,1075),(535,1145),(550,1200),(540,1212),(515,1170),(515,1140),(487,1105),(500,1085),(487,1060)]
guatemala = [(800,1315),(828,1315),(825,1350),(835,1355),(818,1375),(805,1397),(778,1380),(780,1360),(795,1345)]
belize = [(828,1315),(840,1300),(845,1302),(835,1355),(825,1350)]
honduras = [(818,1375),(835,1355),(880,1352),(908,1372),(860,1395),(850,1412),(845,1400)]
el_salvador = [(805,1397),(820,1385),(845,1400),(838,1412)]
nicaragua = [(850,1412),(860,1395),(908,1372),(900,1450),(863,1450)]
cuba = [(895,1230),(930,1205),(975,1205),(1000,1235),(1045,1255),(1040,1268),(995,1270),(985,1240),(945,1215),(915,1230)]
jamaica = [(985,1300),(1010,1305),(1015,1313),(990,1312)]
haiti = [(1060,1272),(1080,1272),(1082,1295),(1078,1305),(1040,1305),(1045,1297),(1070,1295)]
dominican = [(1080,1272),(1105,1275),(1127,1300),(1100,1298),(1085,1318),(1078,1305),(1082,1295)]
puerto_rico = [(1145,1300),(1168,1300),(1165,1312),(1145,1312)]
andros = [(995,1130),(1013,1125),(1020,1145),(1005,1135),(995,1135)]
bahamas_s = [(998,1165),(1005,1163),(1008,1190),(1000,1190)]

# --- South America
costa_rica = [(100,85),(130,85),(150,112),(150,140),(130,125),(105,105)]
panama = [(150,112),(155,120),(195,130),(210,115),(240,120),(252,140),(240,160),(232,140),(210,130),(195,150),(205,155),(185,160),(175,150),(150,140)]
colombia = [(360,55),(368,65),(352,85),(330,122),(342,135),(345,165),(380,165),(397,185),(432,182),(420,225),(432,240),(422,255),(440,290),(385,275),(385,290),(395,295),(382,300),(392,335),(385,400),(370,395),(380,365),(345,355),(325,362),(300,320),(283,313),(245,305),(220,283),(230,257),(252,232),(245,195),(250,165),(232,140),(262,132),(280,115),(290,85),(330,75)]
venezuela = [(360,85),(390,60),(395,70),(420,92),(460,92),(475,102),(490,90),(535,90),(520,100),(550,115),(558,135),(575,140),(558,155),(560,170),(545,185),(555,212),(510,232),(480,225),(487,260),(505,265),(495,280),(465,295),(450,297),(432,285),(420,255),(432,240),(420,225),(432,182),(397,185),(380,165),(345,165),(342,135),(330,122),(352,80),(365,90),(352,105),(358,122),(368,110),(358,88)]
trinidad = [(535,90),(555,85),(553,102),(535,103)]
guyana = [(575,140),(595,160),(618,185),(615,210),(600,225),(625,272),(595,285),(570,270),(573,225),(555,212),(545,185),(560,170),(558,155)]
suriname = [(618,185),(670,190),(668,225),(670,262),(640,260),(625,272),(600,225),(615,210)]
french_guiana = [(680,192),(700,200),(718,222),(695,265),(670,265),(675,232),(668,215)]
brazil = [(718,225),(730,235),(740,270),(750,278),(750,290),(735,308),(772,318),(775,338),(790,323),(845,345),(850,367),(870,362),(905,372),(935,372),(985,415),(1015,418),(1030,462),(1025,500),(990,540),(960,585),(960,650),(950,710),(932,745),(930,768),(912,787),(865,795),(835,810),(805,838),(805,905),(785,920),(775,950),(750,980),(745,1005),(735,1008),(737,992),(710,965),(665,940),(652,938),(675,905),(712,870),(710,852),(697,842),(695,810),(670,805),(668,775),(650,770),(625,770),(620,725),(625,690),(610,650),(573,648),(565,595),(520,575),(495,570),(470,545),(470,515),(450,515),(420,535),(380,540),(378,508),(350,520),(330,505),(315,465),(328,425),(385,400),(392,335),(382,300),(395,295),(385,290),(385,275),(425,275),(440,290),(450,297),(465,295),(495,280),(505,265),(487,260),(480,225),(510,232),(555,212),(573,225),(570,270),(595,285),(625,272),(640,260),(670,262),(695,265)]
ecuador = [(218,283),(240,302),(283,313),(285,335),(265,365),(235,375),(225,400),(215,415),(190,400),(200,360),(182,350),(185,325),(195,295)]
peru = [(283,313),(300,320),(325,362),(345,355),(380,365),(370,395),(385,400),(328,425),(315,465),(330,505),(350,520),(378,508),(380,540),(400,540),(415,570),(408,625),(415,655),(405,685),(395,692),(375,680),(310,630),(280,605),(220,490),(180,440),(175,405),(195,385),(190,400),(215,415),(225,400),(235,375),(265,365),(285,335)]
bolivia = [(400,540),(420,535),(450,515),(470,515),(470,545),(495,570),(520,575),(565,595),(573,648),(610,650),(625,690),(620,725),(600,712),(552,718),(542,770),(515,768),(512,785),(500,770),(475,763),(462,785),(450,785),(430,740),(428,712),(410,680),(415,655),(408,625),(415,570)]
paraguay = [(542,770),(552,718),(600,712),(620,725),(625,770),(650,770),(668,775),(670,805),(695,810),(690,865),(675,882),(625,875),(637,835),(580,805)]
chile = [(395,692),(410,680),(428,712),(430,740),(450,785),(462,785),(465,810),(445,822),(445,860),(452,870),(430,910),(428,962),(455,1020),(445,1070),(462,1110),(452,1125),(465,1190),(480,1225),(495,1245),(497,1300),(492,1330),(520,1358),(535,1385),(600,1390),(565,1395),(565,1420),(505,1400),(480,1380),(465,1355),(450,1310),(462,1285),(435,1275),(443,1255),(435,1225),(458,1232),(452,1190),(440,1185),(442,1205),(430,1205),(420,1130),(405,1080),(413,1078),(418,980),(408,950),(403,905),(408,880),(405,755)]
fuego_chile = [(505,1400),(565,1425),(565,1395),(595,1395),(612,1440),(640,1442),(625,1455),(560,1435)]
fuego_arg = [(595,1395),(625,1425),(665,1440),(660,1447),(640,1442),(612,1440)]
argentina = [(465,780),(475,763),(500,770),(512,785),(515,768),(542,770),(580,805),(637,835),(625,875),(675,882),(690,865),(697,842),(710,852),(712,870),(675,905),(652,938),(650,1015),(675,1045),(690,1068),(680,1105),(650,1115),(607,1118),(618,1155),(595,1165),(570,1158),(582,1185),(605,1190),(585,1215),(587,1245),(565,1248),(563,1270),(600,1290),(600,1310),(585,1325),(570,1350),(600,1390),(535,1385),(520,1358),(492,1330),(497,1300),(495,1245),(480,1225),(465,1190),(452,1125),(462,1110),(445,1070),(455,1020),(428,962),(430,910),(452,870),(445,860),(445,822),(465,810)]
uruguay = [(652,938),(665,940),(710,965),(737,992),(735,1008),(715,1037),(680,1028),(650,1015)]

# Small specks of islands, reference pixels
speck_dark_x = [1217,1225,1237,1238,1223,1231,1236,1510,1850,1855,1861,1965,1976,2135,2135,3044,3031,878,879,881,883,881,896,876]
speck_dark_y = [1080,1083,1083,1088,1100,1099,1099,1256,1382,1388,1388,1308,1473,1214,1224,1184,1196,1072,1079,1095,1112,1118,1119,1131]
speck_grey_x = [2735,2703,2862,2923,2968,3009]
speck_grey_y = [1158,1180,1180,1186,1203,1264]

# share of deaths (%) per country, estimated as the middle of the colour bin
# the order is also the drawing order
low = 0.5
band_1 = 1.5
band_2 = 2.5
band_3 = 3.5
band_4 = 4.5
band_5 = 5.5
no_data = None

map_layers = [
    (AFRICA_CROP, [(mauritania, band_4), (mali, band_5), (niger, band_5), (chad, band_5), (sudan, band_2),
                   (south_sudan, band_5), (eritrea, band_5), (ethiopia, band_5), (djibouti, band_2), (somalia, band_4),
                   (kenya, band_4), (uganda, band_3), (rwanda, band_3), (burundi, band_4), (tanzania, band_2),
                   (dr_congo, band_3), (congo, band_3), (gabon, band_1), (eq_guinea, band_1), (cameroon, band_3),
                   (car, band_5), (nigeria, band_4), (togo, band_3), (benin, band_5), (ghana, band_2),
                   (burkina, band_4), (ivory_coast, band_3), (guinea, band_3), (liberia, band_4), (sierra_leone, band_4),
                   (senegal, band_4), (gambia, band_2), (guinea_bissau, band_5), (angola, band_5), (cabinda, band_5),
                   (zambia, band_3), (mozambique, band_2), (malawi, band_3), (zimbabwe, band_2), (namibia, band_2),
                   (botswana, band_1), (south_africa, band_1), (eswatini, band_3), (lesotho, band_3), (madagascar, band_5),
                   (western_sahara, no_data), (saudi, low), (oman, low), (yemen, band_2), (uae, low), (qatar, low), (kuwait, low)]),
    (PIXEL_CROP, [(algeria, low), (libya, low), (egypt, low), (iran, low)]),
    (EURASIA_CROP, [(russia, low), (kazakhstan, low), (uzbekistan, low), (turkmenistan, low), (kyrgyzstan, low),
                    (mongolia, low), (sakhalin, low), (hokkaido, low), (severnaya, low), (severnaya_s, low),
                    (new_siberian, low), (new_siberian_e, low), (new_siberian_s, low), (wrangel, low)]),
    (PIXEL_CROP, [(china, low), (kerguelen, low)]),
    (EUROPE_CROP, [(morocco, low), (tunisia, low), (iraq, low), (jordan, low), (syria, low), (israel, low),
                   (turkey, low), (turkey_eu, low), (georgia, low), (armenia, low), (azerbaijan, low),
                   (norway, low), (sweden, low), (finland, low), (uk, low), (ireland, low), (n_ireland, low),
                   (france, low), (spain, low), (portugal, low), (belgium, low), (netherlands, low), (germany, low),
                   (denmark, low), (zealand, low), (poland, low), (czechia, low), (slovakia, low), (austria, low),
                   (hungary, low), (switzerland, low), (italy, low), (sicily, low), (sardinia, low), (corsica, low),
                   (slovenia, low), (croatia, low), (bosnia, low), (serbia, low), (kosovo, no_data), (montenegro, low),
                   (albania, low), (macedonia, low), (greece, low), (crete, low), (cyprus, low), (bulgaria, low),
                   (romania, low), (moldova, low), (ukraine, low), (belarus, low), (lithuania, low), (latvia, low),
                   (estonia, low), (kaliningrad, low), (svalbard, low), (svalbard_n, low), (svalbard_s, low),
                   (franz_josef, low), (novaya_zemlya, low)]),
    (ASIA_CROP, [(afghanistan, band_1), (pakistan, band_1), (tajikistan, band_2), (india, band_3), (nepal, band_2),
                 (bhutan, band_1), (bangladesh, band_1), (myanmar, band_1), (thailand, low), (laos, band_2),
                 (cambodia, low), (vietnam, low), (malaya, low), (north_korea, low), (south_korea, low),
                 (honshu, low), (kyushu, low), (shikoku, low), (taiwan, low), (hainan, low), (sri_lanka, low),
                 (sumatra, band_1), (java, band_1)]),
    (OCEANIA_CROP, [(sumbawa, band_1), (flores, band_1), (sumba, band_1), (timor, band_1), (borneo_indo, band_1),
                    (borneo_malay, low), (brunei, low), (sulawesi, band_1), (halmahera, band_1), (seram, band_1),
                    (buru, band_1), (yos_sudarso, band_1), (papua_indo, band_1), (papua_new_guinea, band_2),
                    (new_britain, band_2), (new_ireland, band_2), (bougainville, band_2), (solomon_1, low),
                    (solomon_2, low), (solomon_3, low), (solomon_4, low), (solomon_5, low), (vanuatu_n, low),
                    (vanuatu_s, low), (new_caledonia, no_data), (fiji, low), (palawan, low), (luzon, low),
                    (mindanao, low), (mindoro, low), (panay, low), (samar, low), (negros, low), (australia, low),
                    (tasmania, low), (nz_north, low), (nz_south, low)]),
    (NAMERICA_CROP, [(alaska, low), (seward, low), (canada, low), (usa, low), (maritimes, low), (newfoundland, low),
                     (anticosti, low), (vancouver, low), (haida, low), (kodiak, low), (nunivak, low), (st_lawrence, low),
                     (st_matthew, low), (baffin, low), (victoria_isl, low), (banks_isl, low), (melville, low),
                     (bathurst, low), (cornwallis, low), (somerset, low), (prince_wales, low), (bylot, low),
                     (king_william, low), (southampton, low), (coats, low), (mansel, low), (nettilling, low),
                     (prince_charles, low), (ellef, low), (meighen, low), (graham, low), (axel_heiberg, low),
                     (devon, low), (ellesmere, low), (mexico, low), (guatemala, band_1), (belize, low),
                     (honduras, band_1), (el_salvador, low), (nicaragua, low), (cuba, low), (jamaica, low),
                     (haiti, band_2), (dominican, low), (puerto_rico, low), (andros, low), (bahamas_s, low)]),
    (GREENLAND_CROP, [(greenland, low), (iceland, low)]),
    (SAMERICA_CROP, [(costa_rica, low), (panama, low), (colombia, low), (venezuela, low), (trinidad, low), (guyana, low),
                     (suriname, low), (french_guiana, no_data), (brazil, low), (ecuador, low), (peru, low), (bolivia, low),
                     (paraguay, low), (chile, low), (fuego_chile, low), (fuego_arg, low), (argentina, low), (uruguay, low)]),
]


def to_pixels(points, crop):
    left, top, sx, sy = crop
    xy = np.array(points, dtype=float)
    return np.column_stack([left + xy[:, 0] / sx, top + xy[:, 1] / sy])


cmap = ListedColormap(bin_colors)
norm = BoundaryNorm(bin_edges, cmap.N)

fig = plt.figure(figsize=(17, 12), dpi=200, facecolor="white")
ax = fig.add_axes([0, 0, 1, 1])
ax.set_xlim(0, 3400)
ax.set_ylim(2400, 0)
ax.axis("off")

line_color = "#4d4d4d"
for crop, shapes in map_layers:
    for points, share in shapes:
        xy = to_pixels(points, crop)
        if share is None:
            ax.fill(xy[:, 0], xy[:, 1], facecolor=no_data_color, edgecolor="#b0b0b0", linewidth=0.55, joinstyle="round")
        else:
            ax.fill(xy[:, 0], xy[:, 1], facecolor=cmap(norm(share)), edgecolor=line_color, linewidth=0.55, joinstyle="round")

ax.scatter(speck_dark_x, speck_dark_y, s=1.2, color="#444444", linewidths=0)
ax.scatter(speck_grey_x, speck_grey_y, s=1.2, color="#b5b5b5", linewidths=0)

# Legend bar, 0% at x=638 and about 396 px per percent
bar_top = 2178
bar_bottom = 2218
bar_x0 = 638
px_per_pct = 395.7
legend_edge = "#4d4d4d"
for i in range(len(bin_colors)):
    x_start = bar_x0 + bin_edges[i] * px_per_pct
    ax.add_patch(Rectangle((x_start, bar_top), px_per_pct, bar_bottom - bar_top,
                           facecolor=bin_colors[i], edgecolor=legend_edge, linewidth=0.5))
for edge, label in zip(bin_edges, bin_labels):
    x_tick = bar_x0 + edge * px_per_pct
    ax.plot([x_tick, x_tick], [bar_top - 12, bar_top], color="#666666", linewidth=0.5)
    ax.text(x_tick, bar_top - 19, label, ha="center", va="baseline", fontsize=19.6,
            family="Liberation Sans", color="black")

ax.add_patch(Rectangle((387, bar_top), 191, bar_bottom - bar_top, facecolor=no_data_color,
                       edgecolor=legend_edge, linewidth=0.5))
ax.plot([483, 483], [bar_top - 12, bar_top], color="#666666", linewidth=0.5)
ax.text(483, bar_top - 19, "No data", ha="center", va="baseline", fontsize=19.6,
        family="Liberation Sans", color="black")

# Header and footer
ax.text(60, 141, title, ha="left", va="baseline", fontsize=39.9, family="Liberation Serif", color="#555555")
ax.text(60, 2328, source, ha="left", va="baseline", fontsize=18.15, family="Liberation Sans", color="#7a7a7a")
ax.text(3326, 2328, credit, ha="right", va="baseline", fontsize=18.15, family="Liberation Sans", color="#7a7a7a")

# Logo
ax.add_patch(Rectangle((3096, 60), 243, 124, facecolor="#002147", edgecolor="none"))
ax.add_patch(Rectangle((3096, 184), 243, 15, facecolor="#d42b21", edgecolor="none"))
ax.text(3218, 115, "Our World", ha="center", va="baseline", fontsize=17, family="Lato", color="white")
ax.text(3218, 167, "in Data", ha="center", va="baseline", fontsize=17, family="Lato", color="white")

fig.savefig("out.png", dpi=200, facecolor="white")
